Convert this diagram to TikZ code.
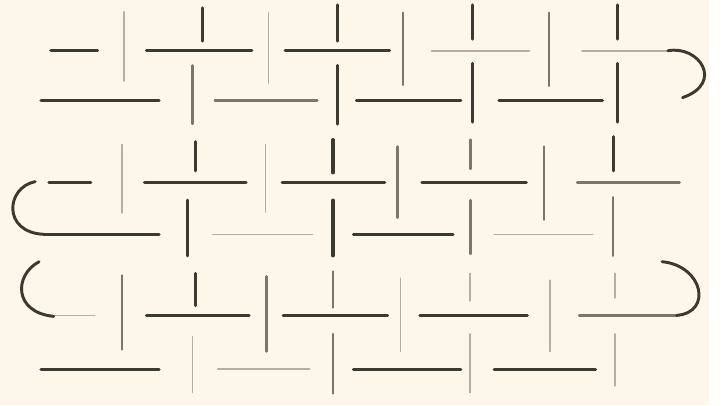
\documentclass[tikz,border=0pt]{standalone}
\definecolor{paper}{HTML}{FCF7E8}
\definecolor{ink}{HTML}{3B3930}
\begin{document}
\begin{tikzpicture}[x=1pt, y=-1pt, line join=round, line cap=round]
		\tikzset{
		dk/.style={ink, line width=3.2pt},
		md/.style={ink!68!paper, line width=2.4pt},
		lt/.style={ink!38!paper, line width=1.7pt},
		turn/.style={ink, line width=3pt}
		}
		\fill[paper] (0,0) rectangle (726,415);
		\foreach \a/\b/\y/\s in {52/100/52/dk, 150/258/52/dk, 292/399/52/dk, 442/542/52/lt, 596/684/52/lt,
		42/163/103/dk, 220/325/103/md, 365/472/103/dk, 511/617/103/dk,
		50/93/187/dk, 148/252/187/dk, 289/394/187/dk, 432/539/187/dk, 591/696/187/md,
		45/163/240/dk, 218/320/240/lt, 362/464/240/dk, 506/607/240/lt,
		55/97/323/lt, 150/255/323/dk, 290/397/323/dk, 430/540/323/dk, 593/693/323/md,
		42/163/378/dk, 223/317/378/lt, 362/472/378/dk, 506/610/378/dk}{
		\draw[\s] (\a,\y) -- (\b,\y);
		}
		\foreach \x/\a/\b/\s in {127/12/83/lt, 207/8/42/dk, 197/67/127/md, 275/13/85/lt, 346/5/42/dk, 346/67/127/dk,
		413/13/87/md, 484/5/40/dk, 484/65/125/dk, 562/13/88/md, 632/5/40/dk, 632/65/125/dk,
		125/148/218/lt, 200/145/175/dk, 192/205/262/dk, 272/148/217/lt, 341/143/177/dk, 341/205/262/dk,
		407/150/223/md, 482/143/173/md, 482/205/260/md, 557/150/225/md, 628/140/175/dk, 628/202/262/md,
		125/282/358/md, 200/280/313/dk, 197/345/402/lt, 273/283/360/md, 341/278/315/md, 341/342/403/md,
		410/285/360/lt, 481/280/308/lt, 481/342/402/lt, 563/287/360/lt, 630/280/305/lt, 630/342/395/lt}{
		\draw[\s] (\x,\a) -- (\x,\b);
		}
		\draw[turn] (684,52) .. controls (716,46) and (742,85) .. (699,100);
		\draw[turn] (36,186) .. controls (6,192) and (2,238) .. (45,240);
		\draw[turn] (40,268) .. controls (14,282) and (14,320) .. (55,324);
		\draw[turn] (678,268) .. controls (720,272) and (730,320) .. (693,323);
	\end{tikzpicture}
\end{document}
